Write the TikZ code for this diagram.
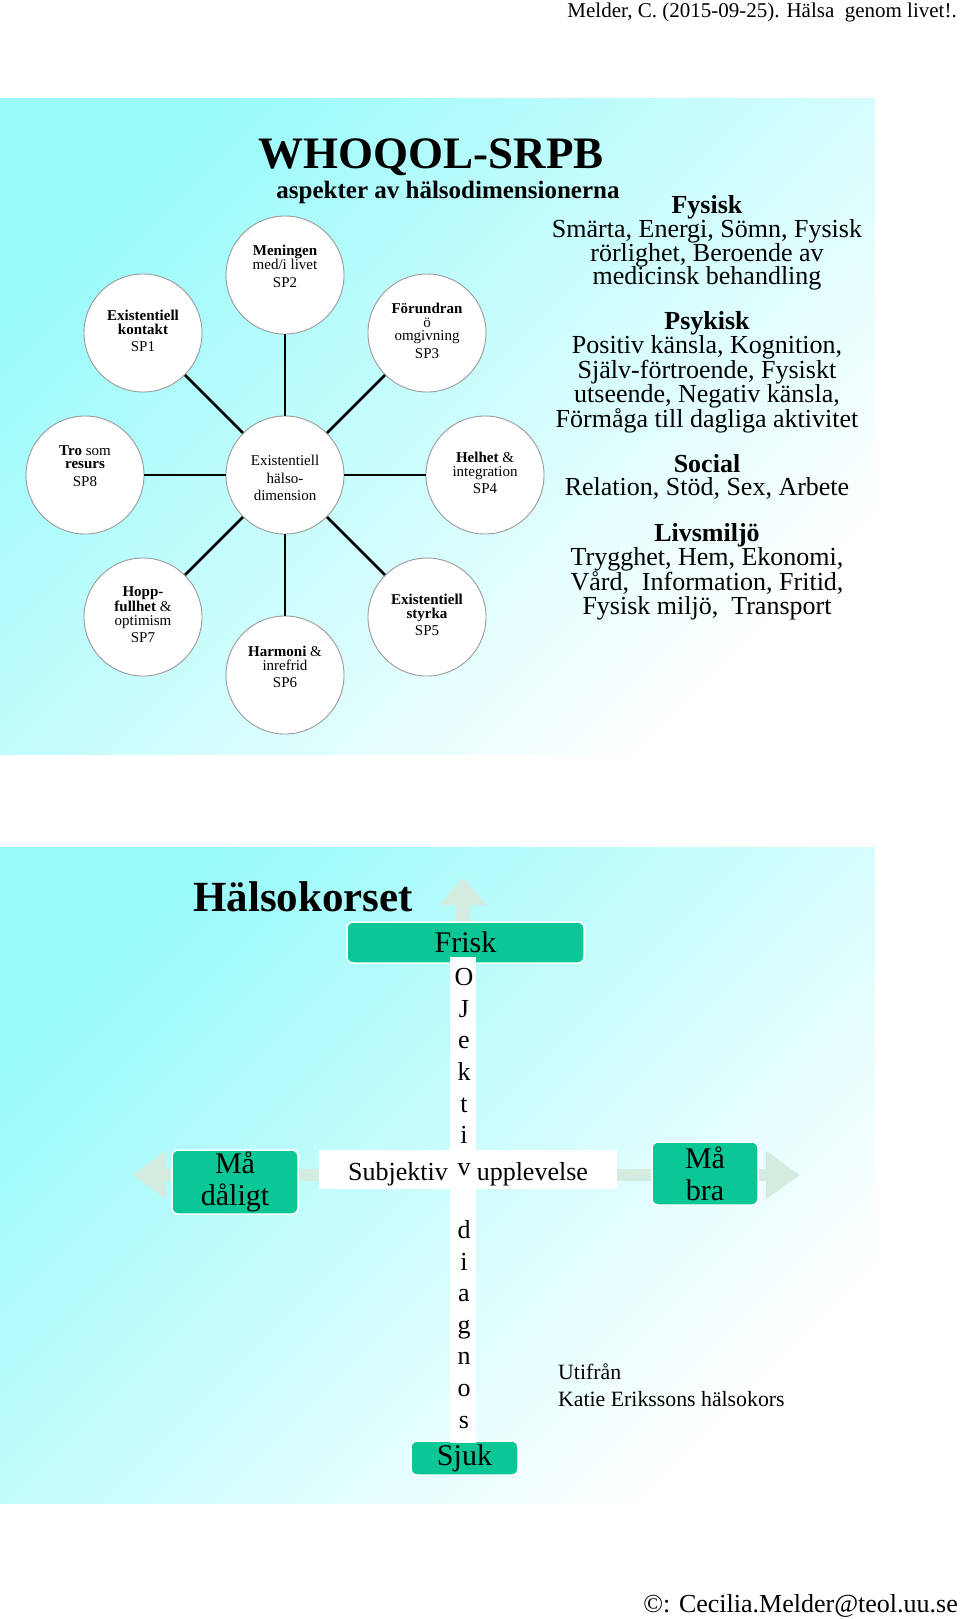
\documentclass[tikz,border=0pt]{standalone}
\usepackage{fontspec}
\setmainfont{Liberation Serif}
\usetikzlibrary{arrows.meta}
\newcommand\setfs[2]{\fontsize{#1}{#2}\selectfont}
\definecolor{bgcyan}{HTML}{99FAFA}
\definecolor{tealbx}{HTML}{0BC796}
\definecolor{paleg}{HTML}{D4ECDF}
\definecolor{cborder}{HTML}{9A9A9A}
\begin{document}
\begin{tikzpicture}[x=1pt,y=1pt,
  every node/.style={inner sep=0pt},
  circ/.style={circle, fill=white, draw=cborder, line width=0.9pt, minimum size=118pt},
  ctext/.style={align=center, font=\setfs{15}{13.5}},
  conn/.style={line width=2.5pt, black},
  rtext/.style={align=center, font=\setfs{26}{23.7}},
  tealbox/.style={fill=tealbx, draw=white, line width=1.5pt, rounded corners=6pt, align=center, font=\setfs{30}{32}},
  letter/.style={anchor=base, font=\setfs{26}{30}},
  blockarrow/.style={paleg},
]
\useasboundingbox (0,0) rectangle (960,-1619);
\fill[white] (0,0) rectangle (960,-1619);

% header / footer
\node[anchor=east, font=\setfs{21}{24}] (hdr) at (957,-12) {Melder, C. (2015-09-25). Hälsa~ genom livet!.};
\node[anchor=east, font=\setfs{26}{30}] (ftr) at (958,-1606) {©: Cecilia.Melder@teol.uu.se};

% ---------- slide 1 ----------
\shade[top color=bgcyan, bottom color=white, shading angle=45] (0,-98) rectangle (875,-754);

\node[font=\bfseries\setfs{45}{50}] (title) at (431,-157) {WHOQOL-SRPB};
\node[font=\bfseries\setfs{25}{28}] (sub) at (448,-192) {aspekter av hälsodimensionerna};

\node[circ] (c0) at (285,-475) {};
\node[circ] (c1) at (143,-333) {};
\node[circ] (c2) at (285,-275) {};
\node[circ] (c3) at (427,-333) {};
\node[circ] (c4) at (485,-475) {};
\node[circ] (c5) at (427,-617) {};
\node[circ] (c6) at (285,-675) {};
\node[circ] (c7) at (143,-617) {};
\node[circ] (c8) at (85,-475) {};
\foreach \n in {1,...,8} \draw[conn] (c0) -- (c\n);

\node[ctext] (t0) at (285,-478) {Existentiell\\[4.5pt]hälso-\\[4pt]dimension};
\node[ctext] (t1) at (143,-331) {\textbf{Existentiell}\\\textbf{kontakt}\\[4pt]SP1};
\node[ctext] (t2) at (285,-266) {\textbf{Meningen}\\med/i livet\\[4pt]SP2};
\node[ctext] (t3) at (427,-331) {\textbf{Förundran}\\ö\\omgivning\\[4pt]SP3};
\node[ctext] (t4) at (485,-473) {\textbf{Helhet} \&\\integration\\[4pt]SP4};
\node[ctext] (t5) at (427,-615) {\textbf{Existentiell}\\\textbf{styrka}\\[4pt]SP5};
\node[ctext] (t6) at (285,-667) {\textbf{Harmoni} \&\\inrefrid\\[4pt]SP6};
\node[ctext] (t7) at (143,-615) {\textbf{Hopp-}\\\textbf{fullhet} \&\\optimism\\[4pt]SP7};
\node[ctext] (t8) at (85,-466) {\textbf{Tro} som\\\textbf{resurs}\\[4pt]SP8};

\node[rtext] (fys) at (707,-243) {\textbf{Fysisk}\\Smärta, Energi, Sömn, Fysisk\\rörlighet, Beroende av\\medicinsk behandling};
\node[rtext] (psy) at (707,-372.5) {\textbf{Psykisk}\\Positiv känsla, Kognition,\\Själv-förtroende, Fysiskt\\utseende, Negativ känsla,\\Förmåga till dagliga aktivitet};
\node[rtext] (soc) at (707,-477) {\textbf{Social}\\Relation, Stöd, Sex, Arbete};
\node[rtext] (liv) at (707,-572) {\textbf{Livsmiljö}\\Trygghet, Hem, Ekonomi,\\Vård,~ Information, Fritid,\\Fysisk miljö,~ Transport};

% ---------- slide 2 ----------
\shade[top color=bgcyan, bottom color=white, shading angle=45] (0,-847) rectangle (875,-1503);

\node[anchor=west, font=\bfseries\setfs{43}{47}] (hk) at (193,-897) {Hälsokorset};

\coordinate (vB) at (463,-1440);
\coordinate (vT) at (463,-877);
\coordinate (hL) at (132,-1175);
\coordinate (hR) at (800,-1175);
\draw[blockarrow, line width=14pt, -{Triangle[width=45pt,length=28pt]}] (vB) -- (vT);
\draw[blockarrow, line width=12pt, {Triangle[width=46pt,length=34pt]}-{Triangle[width=46pt,length=34pt]}] (hL) -- (hR);

\node[tealbox, minimum width=237pt, minimum height=41pt] (frisk) at (465.5,-942.5) {Frisk};
\node[tealbox, minimum width=126pt, minimum height=64pt] (mad) at (235,-1182) {Må\\dåligt};
\node[tealbox, minimum width=106pt, minimum height=63pt] (mab) at (705,-1173.5) {Må\\bra};
\node[tealbox, minimum width=107pt, minimum height=34pt] (sjuk) at (464.5,-1458) {Sjuk};

\node[fill=white, minimum width=298pt, minimum height=39pt] (subj) at (468,-1169.5) {};
\node[fill=white, minimum width=26pt, minimum height=486pt] (strip) at (463,-1200) {};
\node[letter] (subjtxt) at (468,-1180) {Subjektiv\hspace{29pt}upplevelse};

\foreach \ch [count=\i] in {O,J,e,k,t,i,v}
  \node[letter] (oa\i) at (464,{-985.6-31.6*(\i-1)}) {\ch};
\foreach \ch [count=\i] in {d,i,a,g,n,o,s}
  \node[letter] (ob\i) at (464,{-1238.4-31.6*(\i-1)}) {\ch};

\node[anchor=west, align=left, font=\setfs{21.8}{26.5}] (uti) at (558,-1385) {Utifrån\\Katie Erikssons hälsokors};
\end{tikzpicture}
\end{document}
